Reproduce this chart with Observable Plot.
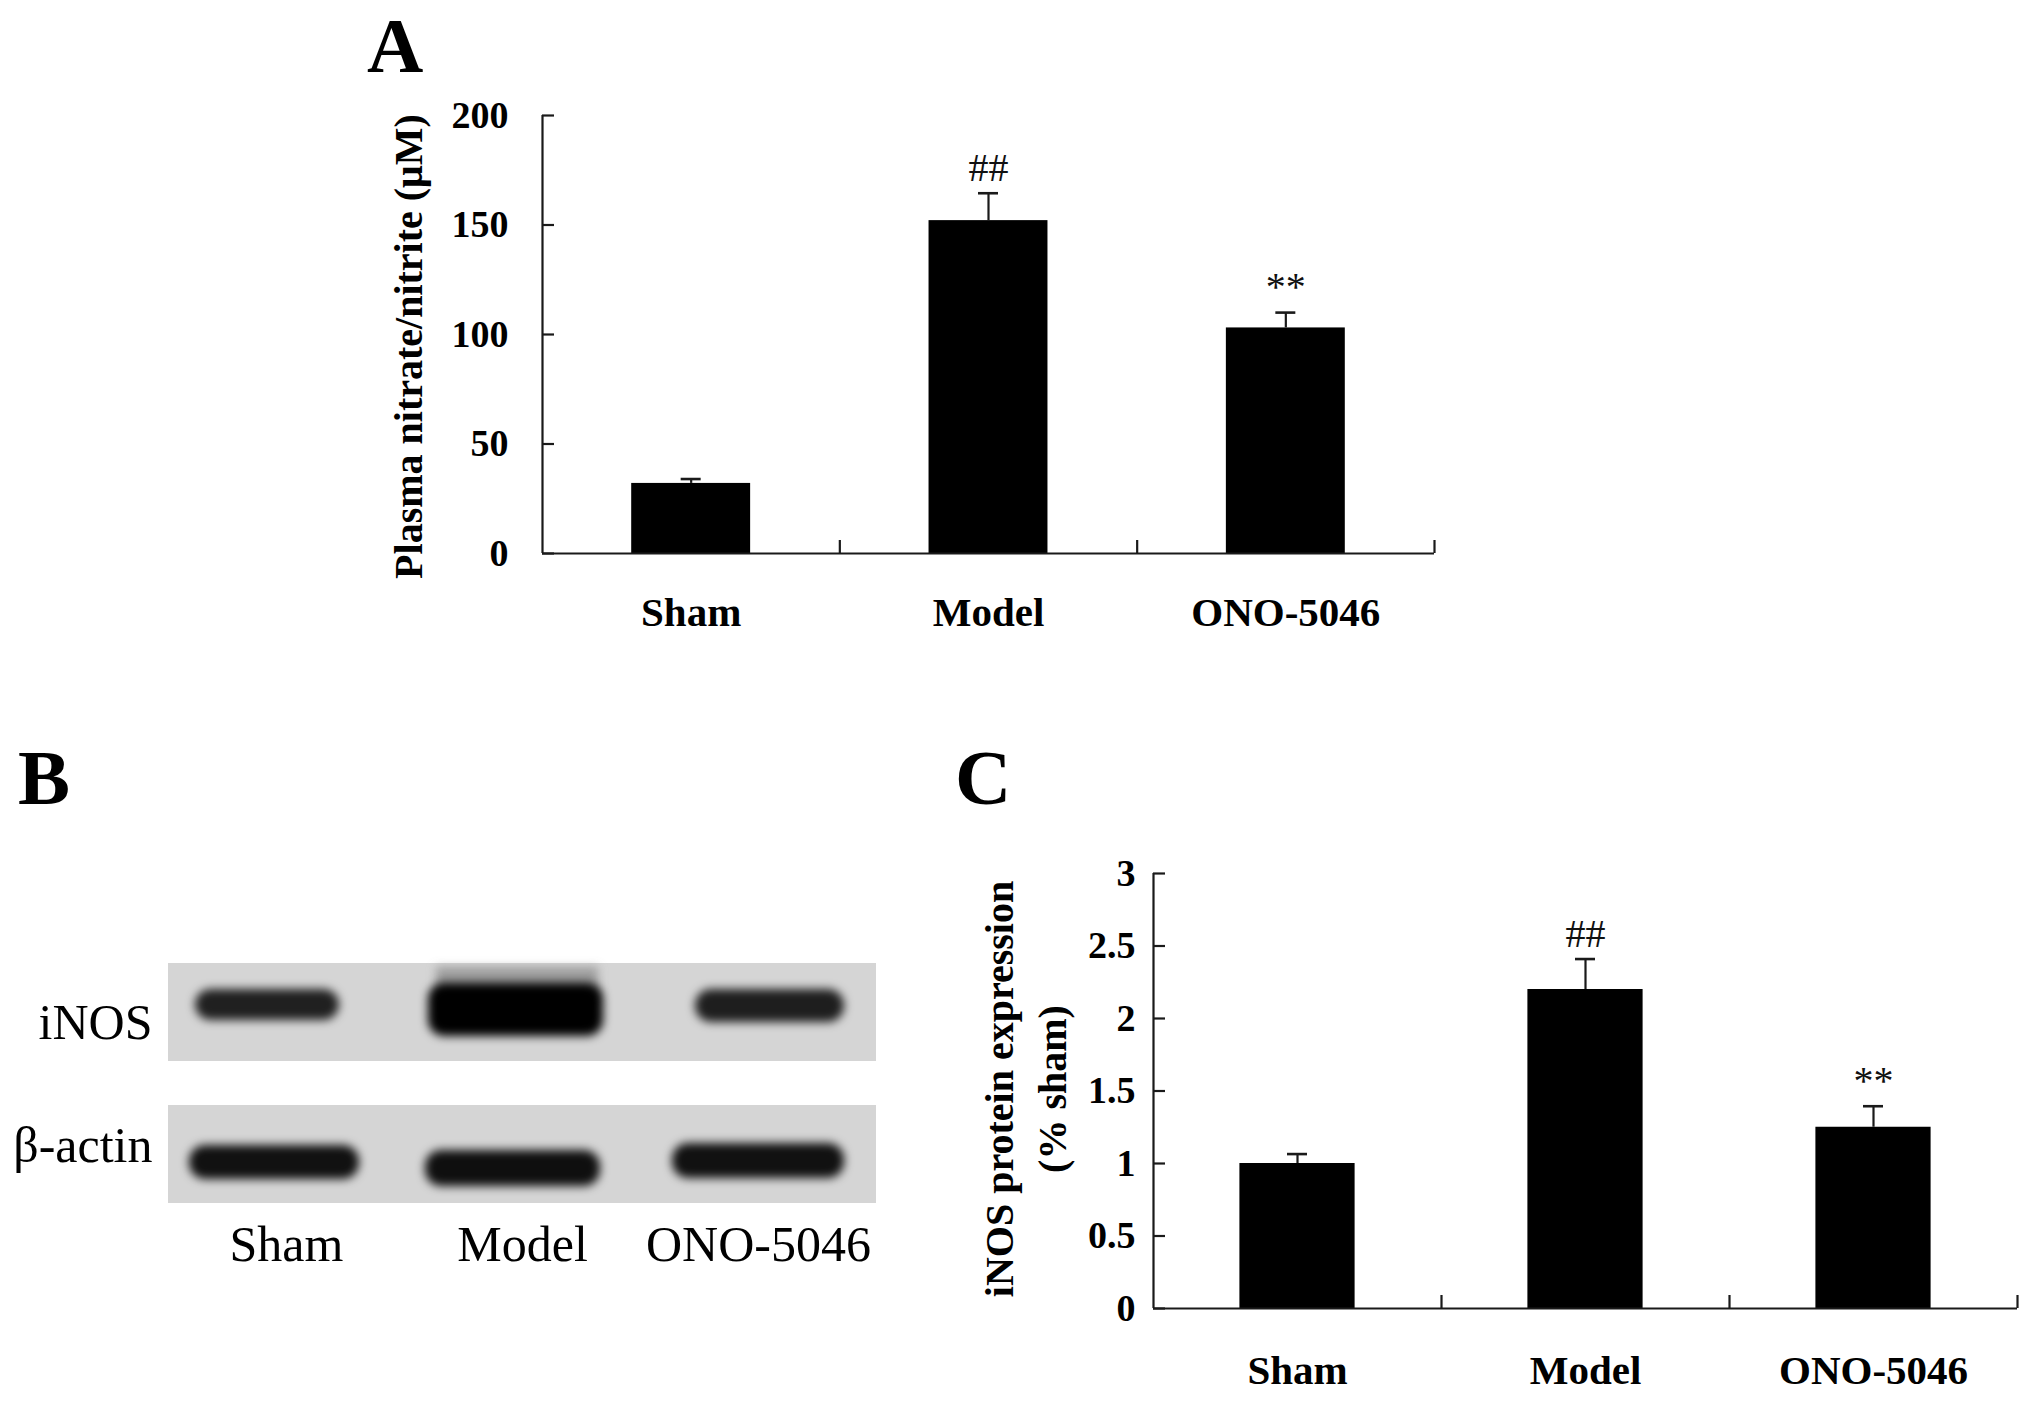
<!DOCTYPE html>
<html>
<head>
<meta charset="utf-8">
<script src="https://cdn.jsdelivr.net/npm/d3@7"></script>
<script src="https://cdn.jsdelivr.net/npm/@observablehq/plot@0.6"></script>
<style>
  html, body { margin: 0; padding: 0; background: #ffffff; }
  #root { position: relative; width: 2031px; height: 1401px; overflow: hidden; background: #fff; }
  .panel { position: absolute; }
  .letter { position: absolute; font-family: "Liberation Serif", "Times New Roman", serif; font-weight: bold; font-size: 78px; line-height: 1; color: #000; }
</style>
</head>
<body>
<div id="root">
  <div class="letter" style="left:367px; top:7px;">A</div>
  <div class="letter" style="left:18px; top:739px;">B</div>
  <div class="letter" style="left:955px; top:739px;">C</div>
  <div id="panelA" class="panel" style="left:0px; top:0px;"></div>
  <div id="panelB" class="panel" style="left:0px; top:700px;"></div>
  <div id="panelC" class="panel" style="left:940px; top:700px;"></div>
</div>
<script>
// ---------------- data ----------------
const categories = ["Sham", "Model", "ONO-5046"];

// Panel A: plasma nitrate/nitrite (µM)
const nitriteMean = [32, 152, 103];
const nitriteSEM = [2, 12.5, 7];
const nitriteSig = ["", "##", "**"];
const nitriteTicks = [0, 50, 100, 150, 200];
const nitriteLabel = "Plasma nitrate/nitrite (\u03bcM)";

// Panel C: iNOS protein expression (% sham)
const inosMean = [1.0, 2.2, 1.25];
const inosSEM = [0.065, 0.21, 0.145];
const inosSig = ["", "##", "**"];
const inosTicks = [0, 0.5, 1, 1.5, 2, 2.5, 3];
const inosLabel = "iNOS protein expression\n(% sham)";

// Panel B: western blot
const blotRows = ["iNOS", "\u03b2-actin"];
const blotLanes = ["Sham", "Model", "ONO-5046"];
const inosBandDensity = [0.85, 1.0, 0.86];
const actinBandDensity = [0.92, 0.93, 0.92];

// ---------------- styles ----------------
const SERIF = "'Liberation Serif', 'Times New Roman', serif";
const AXIS = "#1a1a1a";

function barPanel({values, errors, sig, ticks, yMax, yLabel, width, height, mt, mr, mb, ml, tickPadding, labelDx, labelDy, catDy}) {
  const idx = values.map((_, i) => i);
  const innerW = width - ml - mr;
  const innerH = height - mt - mb;
  const n = categories.length;
  return Plot.plot({
    width, height,
    marginTop: mt, marginRight: mr, marginBottom: mb, marginLeft: ml,
    x: {type: "linear", domain: [0, n], axis: null},
    y: {type: "linear", domain: [0, yMax], axis: null},
    style: {fontFamily: SERIF, fontWeight: "bold", fontSize: "38px", background: "transparent", color: "#000", overflow: "visible"},
    marks: [
      Plot.rectY(idx, {x1: i => i + 0.3, x2: i => i + 0.7, y1: () => 0, y2: i => values[i], fill: "#000"}),
      Plot.ruleX(idx, {x: i => i + 0.5, y1: i => values[i], y2: i => values[i] + errors[i], stroke: AXIS, strokeWidth: 2.2}),
      Plot.ruleY(idx, {x1: i => i + 0.5, x2: i => i + 0.5, y: i => values[i] + errors[i], insetLeft: -10, insetRight: -10, stroke: AXIS, strokeWidth: 2.6}),
      Plot.text(idx, {x: i => i + 0.5, y: i => values[i] + errors[i], text: i => sig[i], dy: -25, fontSize: 40, fontWeight: "normal", fill: "#111"}),
      // axis lines
      Plot.ruleX([0], {y1: () => 0, y2: () => yMax, stroke: AXIS, strokeWidth: 2.2}),
      Plot.ruleY([0], {stroke: AXIS, strokeWidth: 2.2}),
      // inward y ticks
      Plot.ruleY(ticks, {insetRight: innerW - 12, stroke: AXIS, strokeWidth: 2.2}),
      // category boundary ticks (upward)
      Plot.ruleX(d3.range(1, n + 1), {insetTop: innerH - 13, stroke: AXIS, strokeWidth: 2.2}),
      Plot.axisY({ticks, tickSize: 0, tickPadding, tickFormat: d => String(d), fontSize: 38, fontWeight: "bold", label: null}),
      Plot.text(categories, {x: (d, i) => i + 0.5, text: d => d, frameAnchor: "bottom", dy: catDy, fontSize: 41, fontWeight: "bold"}),
      Plot.text([yLabel], {text: d => d, frameAnchor: "left", textAnchor: "middle", lineAnchor: "middle", rotate: -90, dx: labelDx, dy: labelDy, fontSize: 40, fontWeight: "bold", lineHeight: 1.32})
    ]
  });
}

// Panel A
const plotA = barPanel({
  values: nitriteMean, errors: nitriteSEM, sig: nitriteSig, ticks: nitriteTicks, yMax: 200,
  yLabel: nitriteLabel, width: 2031, height: 700, mt: 115, mr: 597, mb: 147, ml: 542,
  tickPadding: 34, labelDx: -137, labelDy: 12, catDy: 72
});
document.getElementById("panelA").appendChild(plotA);

// Panel C
const plotC = barPanel({
  values: inosMean, errors: inosSEM, sig: inosSig, ticks: inosTicks, yMax: 3,
  yLabel: inosLabel, width: 1091, height: 701, mt: 173, mr: 14, mb: 93, ml: 213,
  tickPadding: 18, labelDx: -131, labelDy: -2, catDy: 75
});
document.getElementById("panelC").appendChild(plotC);

// Panel B: blot drawn from lanes/rows through band scales
const BAND_FILL = "#050505";
const SMEAR_FILL = "#8e8e8e";
const stripCells = blotRows.flatMap(r => blotLanes.map(l => ({row: r, lane: l})));
const bandGeom = [
  // iNOS row (insets in px within each lane cell)
  [{l: 27, r: 65, t: 26, b: 41}, {l: 24, r: 37, t: 20, b: 25}, {l: 55, r: 32, t: 26, b: 39}],
  // beta-actin row
  [{l: 21, r: 45, t: 40, b: 24}, {l: 21, r: 40, t: 45, b: 17}, {l: 32, r: 32, t: 38, b: 25}]
];
const densities = [inosBandDensity, actinBandDensity];
const bandMarks = [];
blotRows.forEach((row, ri) => {
  blotLanes.forEach((lane, li) => {
    const g = bandGeom[ri][li];
    bandMarks.push(Plot.cell([{row, lane, d: densities[ri][li]}], {
      x: "lane", y: "row", fill: BAND_FILL, fillOpacity: "d",
      insetLeft: g.l, insetRight: g.r, insetTop: g.t, insetBottom: g.b, rx: 16
    }));
  });
});
const plotB = Plot.plot({
  width: 940, height: 701,
  marginTop: 263, marginRight: 64, marginBottom: 198, marginLeft: 168,
  x: {type: "band", domain: blotLanes, padding: 0, axis: null},
  y: {type: "band", domain: blotRows, paddingInner: 0.31, paddingOuter: 0, axis: null},
  style: {fontFamily: SERIF, fontSize: "50px", background: "transparent", color: "#000", overflow: "visible"},
  marks: [
    Plot.cell(stripCells, {x: "lane", y: "row", fill: "#d5d5d5", shapeRendering: "crispEdges"}),
    Plot.cell([{row: "iNOS", lane: "Model"}], {x: "lane", y: "row", fill: SMEAR_FILL, fillOpacity: 0.8, insetLeft: 32, insetRight: 42, insetTop: 4, insetBottom: 60}),
    ...bandMarks,
    Plot.axisY({ticks: [blotRows[0]], tickSize: 0, tickPadding: 16, dy: 10, fontSize: 50, fontWeight: "normal", label: null}),
    Plot.axisY({ticks: [blotRows[1]], tickSize: 0, tickPadding: 16, dy: -9, fontSize: 50, fontWeight: "normal", label: null}),
    Plot.axisX({anchor: "bottom", tickSize: 0, tickPadding: 22, fontSize: 50, fontWeight: "normal", label: null})
  ]
});
// soft, blurred bands like a scanned film
const svgNodeB = plotB.tagName.toLowerCase() === "svg" ? plotB : plotB.querySelector("svg");
const NS = "http://www.w3.org/2000/svg";
const defs = document.createElementNS(NS, "defs");
const filt = document.createElementNS(NS, "filter");
filt.setAttribute("id", "blotBlur");
filt.setAttribute("filterUnits", "userSpaceOnUse");
filt.setAttribute("x", "0"); filt.setAttribute("y", "0");
filt.setAttribute("width", "940"); filt.setAttribute("height", "701");
const gb = document.createElementNS(NS, "feGaussianBlur");
gb.setAttribute("stdDeviation", "5");
filt.appendChild(gb);
defs.appendChild(filt);
svgNodeB.insertBefore(defs, svgNodeB.firstChild);
svgNodeB.querySelectorAll("rect").forEach(r => {
  const f = (r.getAttribute("fill") || (r.parentNode && r.parentNode.getAttribute && r.parentNode.getAttribute("fill")) || "").toLowerCase();
  if (f === BAND_FILL || f === SMEAR_FILL) r.setAttribute("filter", "url(#blotBlur)");
});
document.getElementById("panelB").appendChild(plotB);
</script>
</body>
</html>
